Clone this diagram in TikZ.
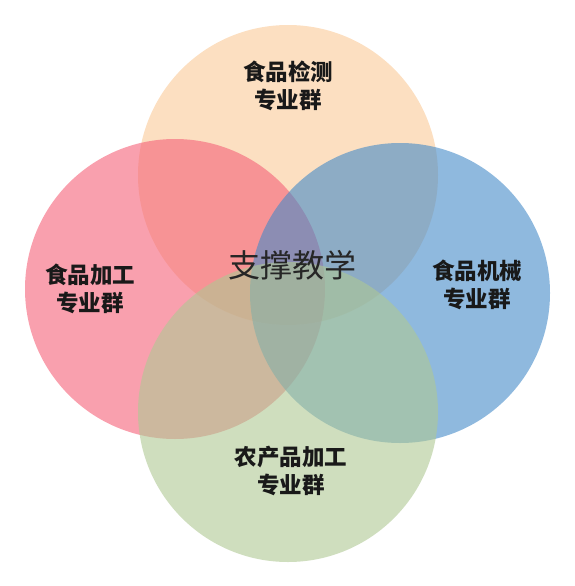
\documentclass[tikz,border=0pt]{standalone}
\usepackage{fontspec}
\setmainfont{Noto Sans CJK SC}
\definecolor{peach}{RGB}{250,202,152}
\definecolor{rose}{RGB}{245,97,120}
\definecolor{skyblue}{RGB}{68,138,200}
\definecolor{sage}{RGB}{175,200,147}
\tikzset{
  ring/.style = {draw = none, fill opacity = 0.6},
  group/.style = {align = center, text = black!90, font = \bfseries\fontsize{22.5}{28}\selectfont}
}
\begin{document}
\begin{tikzpicture}[x = 1pt, y = -1pt]
\useasboundingbox (0,0) rectangle (575,586);
\fill[ring, fill = peach] (288,175) circle[radius = 150pt];
\fill[ring, fill = rose] (175,289) circle[radius = 150pt];
\fill[ring, fill = skyblue] (400,293) circle[radius = 150pt];
\fill[ring, fill = sage] (288,412) circle[radius = 150pt];
\node[group] (check) at (288,86) {食品检测\\专业群};
\node[group] (process) at (90,289) {食品加工\\专业群};
\node[group] (machine) at (477,285) {食品机械\\专业群};
\node[group] (farm) at (291,471) {农产品加工\\专业群};
\node[text = black!85, font = \fontsize{32}{38}\selectfont] (core) at (292,265) {支撑教学};
\end{tikzpicture}
\end{document}
